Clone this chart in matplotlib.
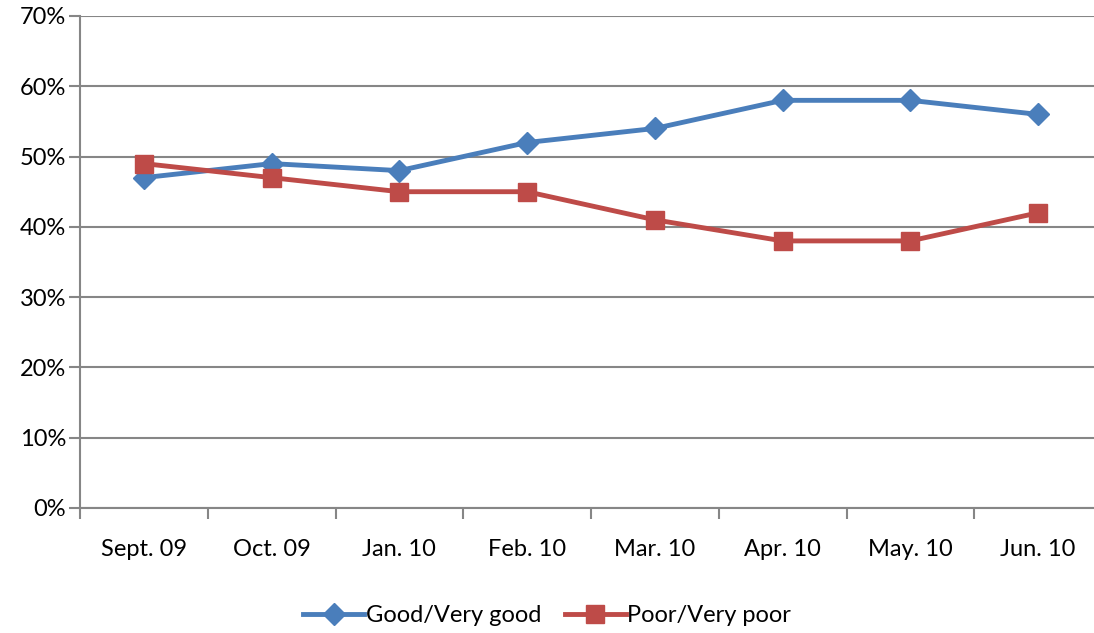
import matplotlib
matplotlib.use("Agg")
import matplotlib.pyplot as plt
import numpy as np

categories = ["Sept. 09", "Oct. 09", "Jan. 10", "Feb. 10", "Mar. 10", "Apr. 10", "May. 10", "Jun. 10"]
good = [47, 49, 48, 52, 54, 58, 58, 56]
poor = [49, 47, 45, 45, 41, 38, 38, 42]
yticks = [0, 10, 20, 30, 40, 50, 60, 70]

plt.rcParams['font.family'] = ['Lato', 'DejaVu Sans']

fig = plt.figure(figsize=(10.94, 6.33), dpi=100)
ax = fig.add_axes([80/1094, 125/633, 1022/1094, 492/633])

x = np.arange(len(categories))
blue = '#4A7EBB'
red = '#BE4B48'
ax.plot(x, good, color=blue, lw=3.5, marker='D', ms=11, mec=blue, mfc=blue,
        label='Good/Very good', zorder=3, clip_on=False)
ax.plot(x, poor, color=red, lw=3.5, marker='s', ms=13, mec=red, mfc=red,
        label='Poor/Very poor', zorder=3, clip_on=False)

ax.set_xlim(-0.5, len(categories) - 0.5)
ax.set_ylim(0, 70)
ax.set_yticks(yticks)
ax.set_yticklabels([f"{v}%" for v in yticks], fontsize=17)
ax.set_xticks(x)
ax.set_xticklabels(categories, fontsize=17)
ax.set_xticks(np.arange(-0.5, len(categories)), minor=True)
ax.tick_params(axis='x', which='major', length=0, pad=22)
ax.tick_params(axis='x', which='minor', length=8, width=1.5, color='#868686', direction='out')
ax.tick_params(axis='y', length=8, width=1.5, color='#868686', direction='out', pad=2)

ax.grid(axis='y', color='#868686', lw=1.5)
ax.set_axisbelow(True)
for s in ['top', 'right']:
    ax.spines[s].set_visible(False)
for s in ['left', 'bottom']:
    ax.spines[s].set_color('#868686')
    ax.spines[s].set_linewidth(1.5)

leg = fig.legend(loc='center', bbox_to_anchor=(0.5, 17/633), ncol=2, frameon=False,
                 fontsize=17, handlelength=2.6, columnspacing=1.0, handletextpad=0.05)

fig.savefig('out.png', dpi=100)
